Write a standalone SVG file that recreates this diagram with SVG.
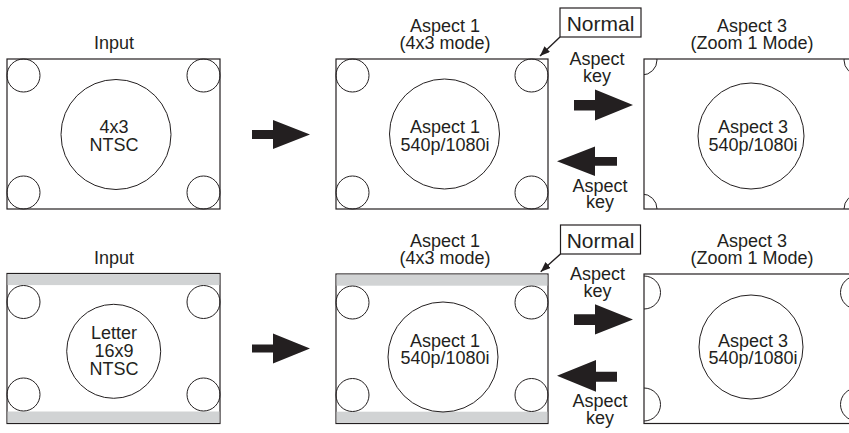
<svg xmlns="http://www.w3.org/2000/svg" width="849" height="433" viewBox="0 0 849 433">
<style>
  .frame { fill: #ffffff; stroke: #231f20; stroke-width: 1.2; }
  .c { fill: none; stroke: #231f20; stroke-width: 1; }
  .bar { fill: #d1d3d4; stroke: none; }
  .t { font-family: "Liberation Sans", Arial, sans-serif; font-size: 18px; fill: #231f20; text-anchor: middle; }
  .n { font-family: "Liberation Sans", Arial, sans-serif; font-size: 21px; fill: #231f20; text-anchor: middle; }
  .nbox { fill: #ffffff; stroke: #231f20; stroke-width: 1.2; }
  .blk { fill: #231f20; stroke: none; }
  .lead { stroke: #231f20; stroke-width: 1.4; fill: none; }
</style>
<defs>
  <marker id="ah" viewBox="0 0 10 8" refX="10" refY="4" markerWidth="10" markerHeight="8" markerUnits="userSpaceOnUse" orient="auto">
    <path d="M0,0 L10,4 L0,8 z" fill="#231f20"/>
  </marker>
  <clipPath id="clipA3top"><rect x="644" y="59" width="213" height="150"/></clipPath>
  <clipPath id="clipA3bot"><rect x="644" y="274" width="213" height="149.5"/></clipPath>
</defs>

<!-- Top row -->
<g id="input-top">
  <text class="t" x="114" y="49">Input</text>
  <rect class="frame" x="7" y="59" width="213" height="150"/>
  <circle class="c" cx="23.5" cy="75.5" r="16.5"/>
  <circle class="c" cx="203.5" cy="75.5" r="16.5"/>
  <circle class="c" cx="23.5" cy="192.5" r="16.5"/>
  <circle class="c" cx="203.5" cy="192.5" r="16.5"/>
  <circle class="c" cx="116" cy="134.5" r="55"/>
  <text class="t" x="114" y="133">4x3</text>
  <text class="t" x="114" y="151">NTSC</text>
</g>

<g id="aspect1-top">
  <text class="t" x="445" y="31.5">Aspect 1</text>
  <text class="t" x="445" y="48.5">(4x3 mode)</text>
  <rect class="frame" x="336" y="59" width="212" height="150"/>
  <circle class="c" cx="352.5" cy="75.5" r="16.5"/>
  <circle class="c" cx="531.5" cy="75.5" r="16.5"/>
  <circle class="c" cx="352.5" cy="192.5" r="16.5"/>
  <circle class="c" cx="531.5" cy="192.5" r="16.5"/>
  <circle class="c" cx="444.5" cy="134" r="55"/>
  <text class="t" x="445" y="133">Aspect 1</text>
  <text class="t" x="445" y="150.5">540p/1080i</text>
</g>

<g id="normal-top">
  <rect class="nbox" x="560" y="8" width="81" height="29"/>
  <text class="n" x="600.5" y="31">Normal</text>
</g>

<g id="aspectkey-top-fwd">
  <text class="t" x="597" y="65">Aspect</text>
  <text class="t" x="597" y="82">key</text>
</g>
<g id="aspectkey-top-back">
  <text class="t" x="600" y="191.5">Aspect</text>
  <text class="t" x="600" y="207.5">key</text>
</g>

<g id="aspect3-top">
  <text class="t" x="752" y="31.5">Aspect 3</text>
  <text class="t" x="752" y="48.5">(Zoom 1 Mode)</text>
  <rect class="frame" x="644" y="59" width="213" height="150"/>
  <g clip-path="url(#clipA3top)">
    <circle class="c" cx="642" cy="60" r="15"/>
    <circle class="c" cx="859" cy="60" r="15"/>
    <circle class="c" cx="642" cy="209" r="15"/>
    <circle class="c" cx="859" cy="209" r="15"/>
  </g>
  <circle class="c" cx="751" cy="136" r="53"/>
  <text class="t" x="753" y="133">Aspect 3</text>
  <text class="t" x="753" y="150.5">540p/1080i</text>
</g>

<!-- Bottom row -->
<g id="input-bottom">
  <text class="t" x="114" y="264">Input</text>
  <rect class="frame" x="7" y="273.5" width="213" height="150"/>
  <rect class="bar" x="7.6" y="274.1" width="211.8" height="11"/>
  <rect class="bar" x="7.6" y="411.5" width="211.8" height="11.4"/>
  <circle class="c" cx="23.5" cy="302" r="16.5"/>
  <circle class="c" cx="203.5" cy="302" r="16.5"/>
  <circle class="c" cx="23.5" cy="394.5" r="16.5"/>
  <circle class="c" cx="203.5" cy="394.5" r="16.5"/>
  <circle class="c" cx="113.7" cy="351.3" r="47"/>
  <text class="t" x="114" y="339">Letter</text>
  <text class="t" x="114" y="357">16x9</text>
  <text class="t" x="114" y="375">NTSC</text>
</g>

<g id="aspect1-bottom">
  <text class="t" x="445" y="246.5">Aspect 1</text>
  <text class="t" x="445" y="263.5">(4x3 mode)</text>
  <rect class="frame" x="336" y="274" width="212" height="149.5"/>
  <rect class="bar" x="336.6" y="274.6" width="210.8" height="11.1"/>
  <rect class="bar" x="336.6" y="411.7" width="210.8" height="11.2"/>
  <circle class="c" cx="352.5" cy="302.5" r="16.5"/>
  <circle class="c" cx="531.5" cy="302.5" r="16.5"/>
  <circle class="c" cx="352.5" cy="395" r="16.5"/>
  <circle class="c" cx="531.5" cy="395" r="16.5"/>
  <circle class="c" cx="443" cy="357" r="55"/>
  <text class="t" x="445" y="346.5">Aspect 1</text>
  <text class="t" x="445" y="364">540p/1080i</text>
</g>

<g id="normal-bottom">
  <rect class="nbox" x="560.5" y="225" width="80" height="29"/>
  <text class="n" x="600.5" y="247.5">Normal</text>
</g>

<g id="aspectkey-bottom-fwd">
  <text class="t" x="597.5" y="280">Aspect</text>
  <text class="t" x="597.5" y="297">key</text>
</g>
<g id="aspectkey-bottom-back">
  <text class="t" x="600" y="407">Aspect</text>
  <text class="t" x="600" y="424">key</text>
</g>

<g id="aspect3-bottom">
  <text class="t" x="752" y="246.5">Aspect 3</text>
  <text class="t" x="752" y="263.5">(Zoom 1 Mode)</text>
  <rect class="frame" x="644" y="274" width="213" height="149.5"/>
  <g clip-path="url(#clipA3bot)">
    <circle class="c" cx="644" cy="292.5" r="16.5"/>
    <circle class="c" cx="857" cy="292.5" r="16.5"/>
    <circle class="c" cx="644" cy="404.5" r="16.5"/>
    <circle class="c" cx="857" cy="404.5" r="16.5"/>
  </g>
  <circle class="c" cx="751" cy="347" r="52"/>
  <text class="t" x="753" y="346.5">Aspect 3</text>
  <text class="t" x="753" y="364.3">540p/1080i</text>
</g>

<!-- Connectors -->
<g id="connectors">
  <polygon class="blk" points="252,130 273,130 273,120 310,134.5 273,149 273,139 252,139"/>
  <polygon class="blk" points="574,100 595,100 595,89.5 633,105 595,120.5 595,110.5 574,110.5"/>
  <polygon class="blk" points="617,157 595,157 595,146.5 557,161.3 595,176 595,165.7 617,165.7"/>
  <line class="lead" x1="560" y1="37" x2="540" y2="56" marker-end="url(#ah)"/>

  <polygon class="blk" points="252,344.5 273,344.5 273,333.5 310,348.5 273,363.5 273,352.5 252,352.5"/>
  <polygon class="blk" points="574,314.3 595,314.3 595,304.3 633,319.5 595,334.5 595,325 574,325"/>
  <polygon class="blk" points="617,371.7 596,371.7 596,360 557,375.8 596,391.7 596,381.7 617,381.7"/>
  <line class="lead" x1="560.5" y1="254" x2="540.7" y2="271.7" marker-end="url(#ah)"/>
</g>
</svg>
